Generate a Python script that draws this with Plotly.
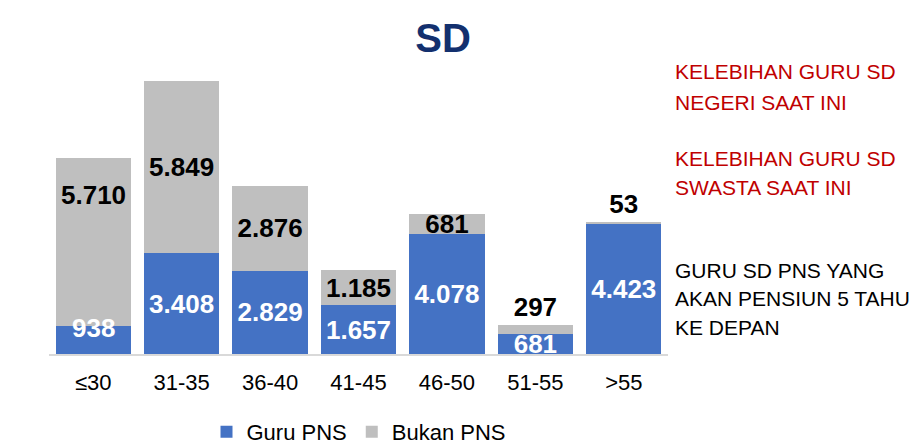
import plotly.graph_objects as go

categories = ["≤30", "31-35", "36-40", "41-45", "46-50", "51-55", ">55"]
guru_pns = [938, 3408, 2829, 1657, 4078, 681, 4423]
bukan_pns = [5710, 5849, 2876, 1185, 681, 297, 53]
title_text = "SD"
red_notes = [["KELEBIHAN GURU SD", "NEGERI SAAT INI"], ["KELEBIHAN GURU SD", "SWASTA SAAT INI"]]
black_note = ["GURU SD PNS YANG", "AKAN PENSIUN 5 TAHUN", "KE DEPAN"]

FONT = "Liberation Sans, Arial, sans-serif"
BLUE = "#4472C4"
GRAY = "#BFBFBF"

def fmt(v):
    return f"{v:,}".replace(",", ".")

# page body has an 8px default margin; figure sized to fit the window
OFF = 8
W, H = 918 - OFF, 445 - OFF
L, R, T, B = 49 - OFF, W - (668 - OFF), 59 - OFF, H - (354 - OFF)

gp_text = [fmt(v) for v in guru_pns]
fig = go.Figure()
fig.add_trace(go.Bar(
    x=categories, y=guru_pns, name="Guru PNS",
    marker=dict(color=BLUE, line=dict(width=0)),
    text=[""] + gp_text[1:], textposition="inside",
    insidetextanchor="middle", constraintext="none",
    textfont=dict(family=FONT, size=26, color="white", weight="bold"),
    hoverinfo="skip",
))
bk_text = [fmt(v) for v in bukan_pns]
bk_pos = ["inside" if v > 500 else "outside" for v in bukan_pns]
bk_text_shown = [""] + bk_text[1:]
fig.add_trace(go.Bar(
    x=categories, y=bukan_pns, name="Bukan PNS",
    marker=dict(color=GRAY, line=dict(width=0)),
    text=bk_text_shown, textposition=bk_pos,
    insidetextanchor="middle", constraintext="none", cliponaxis=False,
    textfont=dict(family=FONT, size=26, color="black", weight="bold"),
    hoverinfo="skip",
))

annotations = []
annotations.append(dict(
    x=categories[0], y=guru_pns[0] / 2, xref="x", yref="y",
    text=gp_text[0], showarrow=False, yshift=12,
    font=dict(family=FONT, size=26, color="white", weight="bold"),
))
annotations.append(dict(
    x=categories[0], y=guru_pns[0] + bukan_pns[0] / 2, xref="x", yref="y",
    text=bk_text[0], showarrow=False, yshift=47,
    font=dict(family=FONT, size=26, color="black", weight="bold"),
))

plot_w = W - L - R
plot_h = H - T - B
def note_lines_px(lines, y_px_list, color):
    for line, ypx in zip(lines, y_px_list):
        annotations.append(dict(
            x=(673 - OFF - L) / plot_w, y=(H - B - (ypx - OFF)) / plot_h,
            xref="paper", yref="paper",
            xanchor="left", yanchor="middle", text=line, showarrow=False,
            font=dict(family=FONT, size=21, color=color),
        ))

note_lines_px(red_notes[0], [72, 102], "#C00000")
note_lines_px(red_notes[1], [158, 187], "#C00000")
note_lines_px(black_note, [270, 298, 327], "black")

fig.update_layout(
    width=W, height=H,
    margin=dict(l=L, r=R, t=T, b=B, autoexpand=False),
    paper_bgcolor="white", plot_bgcolor="white",
    barmode="stack", bargap=0.15,
    title=dict(text=f"<b>{title_text}</b>", x=(443 - OFF) / W, xref="container",
               xanchor="center", y=1 - (38 - OFF) / H, yref="container", yanchor="middle",
               font=dict(family=FONT, size=40, color="#13306E")),
    xaxis=dict(showline=True, linecolor="#D9D9D9", linewidth=1.5,
               ticks="", tickfont=dict(family=FONT, size=22, color="black"),
               ticklabelstandoff=8, showgrid=False, fixedrange=True),
    yaxis=dict(range=[0, 10000], visible=False, fixedrange=True),
    showlegend=True,
    legend=dict(orientation="h", x=0.5, xanchor="center",
                y=(H - B - (432 - OFF)) / plot_h, yanchor="middle",
                font=dict(family=FONT, size=22, color="black"),
                itemsizing="constant", traceorder="normal", itemwidth=30),
    annotations=annotations,
)

fig.write_html("out.html")
